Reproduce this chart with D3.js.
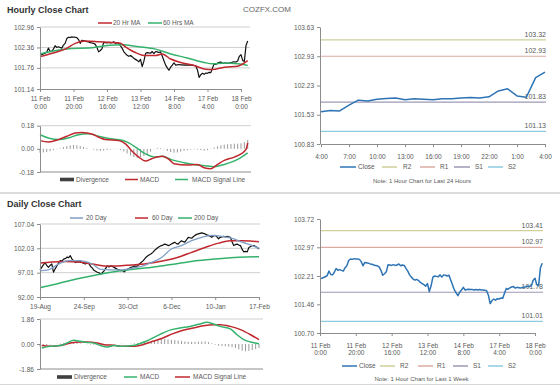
<!DOCTYPE html>
<html><head><meta charset="utf-8">
<script src="https://cdn.jsdelivr.net/npm/d3@7"></script>
<style>
body{margin:0;background:#fff;}
svg{display:block;}
</style></head><body>
<svg id="c" width="560" height="386"></svg>
<script>
// ---------------- DATA ----------------
// Hourly closes, 11 Feb 0:00 (idx 0) .. 18 Feb 4:00 (idx 124)
const hourClose = [
102.14,102.15,102.17,102.19,102.22,102.34,102.25,102.24,102.31,102.41,102.36,102.38,102.36,102.34,102.43,102.48,102.62,102.66,102.65,102.67,102.66,102.66,102.65,102.59,
102.48,102.57,102.56,102.55,102.53,102.52,102.50,102.49,102.48,102.45,102.36,102.23,102.27,102.32,102.51,102.50,102.49,102.51,102.49,102.50,102.53,102.48,102.50,102.49,
102.41,102.34,102.24,102.18,102.13,102.10,102.12,102.09,102.04,102.01,101.98,101.94,102.01,101.80,101.95,102.18,102.21,102.20,102.19,102.24,102.18,102.24,102.23,102.21,
102.23,102.10,101.97,101.84,101.76,101.69,101.78,101.84,101.91,101.84,101.85,101.86,101.85,101.85,101.84,101.85,101.84,101.85,101.84,101.84,101.83,101.82,101.70,101.48,
101.56,101.60,101.57,101.61,101.60,101.63,101.62,101.76,101.88,101.86,101.90,101.92,101.93,101.89,101.91,101.90,101.89,101.91,101.91,101.93,101.94,101.93,101.96,102.10,
102.15,101.98,101.95,102.42,102.55];
const hourTickIdx = [0,20,40,60,80,100,120];
const hourTickDay = ["11 Feb","11 Feb","12 Feb","13 Feb","14 Feb","17 Feb","18 Feb"];
const hourTickTime = ["0:00","20:00","16:00","12:00","8:00","4:00","0:00"];
const hourYTicks = [101.14,101.76,102.36,102.96];

const ma20hIdx = [0,9,15,21,27,35,41,48,51,57,63,69,73,78,84,92,98,103,110,118,124];
const ma20hVal = [102.09,102.21,102.31,102.48,102.55,102.53,102.51,102.48,102.38,102.21,102.12,102.12,102.17,102.02,101.92,101.83,101.73,101.71,101.78,101.81,101.97];
const ma60hIdx = [0,9,19,29,39,49,59,69,78,88,98,103,110,118,124];
const ma60hVal = [102.17,102.26,102.33,102.34,102.41,102.44,102.38,102.31,102.17,102.05,101.92,101.88,101.90,101.88,101.83];

const macdHIdx = [0,5,11,16,21,25,31,36,39,47,51,55,59,63,67,73,77,80,88,94,98,102,106,110,116,120,123,124];
const macdHVal = [0.064,0.054,0.072,0.098,0.123,0.128,0.116,0.085,0.072,0.064,0.039,-0.018,-0.064,-0.095,-0.075,-0.057,-0.082,-0.116,-0.126,-0.121,-0.147,-0.154,-0.121,-0.090,-0.064,-0.039,-0.005,0.046];
const sigHIdx = [0,5,11,17,23,29,35,41,49,53,59,63,69,73,78,86,94,100,104,110,118,124];
const sigHVal = [0.110,0.085,0.072,0.085,0.110,0.118,0.098,0.080,0.067,0.046,-0.005,-0.039,-0.064,-0.057,-0.082,-0.108,-0.126,-0.134,-0.139,-0.121,-0.082,-0.031];
// divergence every 2 hours (idx 0,2,...,124)
const divH = [-0.030,-0.028,-0.025,-0.018,-0.010,-0.003,0.005,0.014,0.022,0.028,0.030,0.028,0.022,0.015,0.008,0.000,-0.006,-0.012,-0.017,-0.014,-0.009,-0.005,-0.002,-0.003,-0.010,-0.020,-0.036,-0.052,-0.063,-0.070,-0.064,-0.056,-0.042,-0.022,-0.002,0.007,0.006,-0.004,-0.017,-0.025,-0.030,-0.028,-0.022,-0.015,-0.010,-0.006,-0.004,-0.006,-0.010,-0.014,-0.010,-0.002,0.010,0.020,0.028,0.033,0.036,0.038,0.040,0.040,0.043,0.052,0.070];
const macdHYTicks = [-0.18,0.00,0.18];

// Last 24 hours (idx 100..124)
const h24TickIdx = [100,103,106,109,112,115,118,121,124];
const h24TickLab = ["4:00","7:00","10:00","13:00","16:00","19:00","22:00","1:00","4:00"];
const h24YTicks = [100.83,101.53,102.23,102.93,103.63];
const levelNames = ["R2","R1","S1","S2"];
const levels24 = [103.32,102.93,101.83,101.13];
const levelsWeek = [103.41,102.97,101.78,101.01];
const weekYTicks = [100.70,101.46,102.21,102.97,103.72];

// Daily closes, 19-Aug (idx 0) .. 17-Feb (idx 130)
const dayClose = [
97.6,98.1,98.6,99.1,98.5,98.1,98.5,98.8,97.1,97.8,98.4,99.0,99.5,99.4,99.8,99.9,100.2,100.1,100.5,99.8,
99.5,99.1,99.3,99.2,99.4,99.1,98.9,98.8,99.1,98.9,98.3,98.0,97.5,97.3,97.1,97.0,96.7,97.0,97.4,97.9,
98.4,98.2,98.4,98.3,98.1,97.9,97.7,97.6,97.4,97.5,97.2,97.5,97.7,97.9,98.1,98.2,98.4,98.3,98.4,98.8,
99.1,99.4,99.8,100.2,100.5,100.7,100.9,101.2,101.6,101.9,102.2,102.4,102.6,102.7,102.9,102.8,102.6,102.7,102.9,103.1,
103.3,103.0,102.9,103.3,103.6,103.4,103.3,103.8,104.3,104.2,104.1,104.4,104.7,104.9,105.0,105.1,105.2,105.1,105.0,104.8,
104.7,104.5,104.3,104.6,104.7,104.4,104.0,104.3,104.4,104.5,104.4,104.5,104.4,104.3,103.4,102.6,102.8,102.9,102.7,102.6,
101.8,101.3,101.4,101.3,102.2,102.4,102.6,102.6,102.4,102.2,101.9];
const dayTickIdx = [0,26,52,78,104,130];
const dayTickLab = ["19-Aug","24-Sep","30-Oct","6-Dec","10-Jan","17-Feb"];
const dayYTicks = [92.00,97.01,102.03,107.04];

const ma20dIdx = [0,5,11,17,23,27,31,36,42,48,54,60,66,72,78,84,90,96,102,108,114,120,126,130];
const ma20dVal = [97.4,97.6,98.8,99.5,99.5,99.3,98.8,97.7,97.6,97.6,97.9,98.3,99.1,100.1,101.9,102.6,103.6,104.3,104.7,104.5,104.1,103.3,102.6,102.0];
const ma60dIdx = [0,7,15,23,31,38,46,54,62,68,74,82,90,98,106,113,120,126,130];
const ma60dVal = [99.0,99.2,99.3,99.2,98.8,98.4,98.4,98.6,98.8,99.1,99.5,100.2,101.2,102.2,103.1,103.6,103.6,103.5,103.4];
const ma200dIdx = [0,11,23,34,46,58,70,82,94,106,118,130];
const ma200dVal = [93.9,94.8,95.8,96.6,97.3,97.8,98.3,98.9,99.5,99.9,100.2,100.3];

const macdDIdx = [1,6,12,16,20,24,28,32,36,40,44,49,55,59,63,67,73,78,83,89,95,99,103,107,113,117,121,125,130];
const macdDVal = [-0.30,-0.17,-0.12,0.07,0.27,0.20,0.12,0.07,-0.12,-0.22,-0.12,-0.17,-0.12,0.02,0.20,0.45,0.82,1.07,1.19,1.31,1.49,1.61,1.49,1.31,1.12,0.69,0.32,0.15,0.02];
const sigDIdx = [1,6,12,18,24,28,34,38,44,49,55,61,67,73,79,85,91,97,103,107,113,119,125,130];
const sigDVal = [-0.12,-0.17,-0.12,0.07,0.15,0.15,0.07,-0.05,-0.10,-0.17,-0.17,-0.05,0.20,0.45,0.77,1.02,1.19,1.36,1.44,1.44,1.31,1.07,0.69,0.32];
// divergence every 2 days (idx 0,2,...,130)
const divD = [-0.18,-0.15,-0.08,-0.03,0.00,0.02,0.03,0.05,0.06,0.08,0.10,0.07,0.04,0.00,-0.02,-0.04,-0.06,-0.08,-0.09,-0.08,-0.06,-0.03,-0.02,0.00,0.02,0.01,0.00,0.02,0.05,0.07,0.09,0.12,0.17,0.22,0.28,0.33,0.36,0.37,0.34,0.31,0.29,0.26,0.22,0.19,0.17,0.16,0.16,0.17,0.18,0.20,0.14,0.05,-0.05,-0.12,-0.15,-0.17,-0.19,-0.24,-0.30,-0.40,-0.50,-0.54,-0.52,-0.45,-0.38,-0.30];
const macdDYTicks = [-1.86,0.00,1.86];

// ---------------- STYLE ----------------
const FF = '"Liberation Sans", Arial, Helvetica, sans-serif';
const FS = 6.5;
const TXT = "#595959", AX = "#8c8c8c", GRID = "#cfcfcf";
const RED = "#c0282e", GREEN = "#34b26c", BLUE = "#2e74b5", STEEL = "#7f9fc6";
const LVLC = ["#cfcf9a","#dcaaa2","#9d97b5","#8fcbe0"];

const svg = d3.select("#c").attr("font-family", FF);

function leftAxis(y, x0, vals, dec) {
  const g = svg.append("g").attr("transform", `translate(${x0},0)`)
    .call(d3.axisLeft(y).tickValues(vals).tickFormat(d => d.toFixed(dec)).tickSize(3).tickSizeOuter(0).tickPadding(3));
  g.attr("font-family", FF).attr("font-size", FS);
  g.select(".domain").attr("stroke", AX);
  g.selectAll(".tick line").attr("stroke", AX);
  g.selectAll(".tick text").attr("fill", TXT);
}
function bottomAxis(x, y0, vals, lab1, lab2, pad, gap) {
  const g = svg.append("g").attr("transform", `translate(0,${y0})`)
    .call(d3.axisBottom(x).tickValues(vals).tickFormat((d, i) => lab1[i]).tickSize(3).tickSizeOuter(0).tickPadding(pad));
  g.attr("font-family", FF).attr("font-size", FS);
  g.select(".domain").attr("stroke", AX);
  g.selectAll(".tick line").attr("stroke", AX);
  g.selectAll(".tick text").attr("fill", TXT);
  if (lab2) {
    g.selectAll(".tick").append("text").attr("fill", TXT)
      .attr("y", 3 + pad + gap).attr("dy", "0.71em").attr("text-anchor", "middle")
      .text((d, i) => lab2[i]);
  }
}
function grid(y, vals, x0, x1) {
  svg.append("g").selectAll("line").data(vals).join("line")
    .attr("x1", x0).attr("x2", x1).attr("y1", d => y(d)).attr("y2", d => y(d))
    .attr("stroke", GRID).attr("stroke-width", 1);
}
function path(xs, ys, x, y, color, w, curve) {
  const ln = d3.line().x((d, i) => x(xs[i])).y(d => y(d));
  if (curve) ln.curve(d3.curveMonotoneX);
  svg.append("path").datum(ys).attr("d", ln).attr("fill", "none")
    .attr("stroke", color).attr("stroke-width", w).attr("stroke-linejoin", "round");
}
function legend(items, cy) {
  items.forEach(it => {
    if (it.bar) {
      svg.append("rect").attr("x", it.x).attr("y", cy - 1.8).attr("width", it.w).attr("height", 3.6).attr("fill", "#404040");
    } else {
      svg.append("line").attr("x1", it.x).attr("x2", it.x + it.w).attr("y1", cy).attr("y2", cy)
        .attr("stroke", it.c).attr("stroke-width", 1.5);
    }
    svg.append("text").attr("x", it.tx).attr("y", cy).attr("dy", "0.35em")
      .attr("font-size", FS).attr("fill", TXT).text(it.t);
  });
}
function bars(idx, vals, x, y, w) {
  svg.append("g").selectAll("rect").data(vals).join("rect")
    .attr("x", (d, i) => x(idx(i)) - w / 2).attr("width", w)
    .attr("y", d => Math.min(y(d), y(0))).attr("height", d => Math.abs(y(d) - y(0)))
    .attr("fill", "#9a9a9a");
}
const hIdx = hourClose.map((d, i) => i);
const dIdx = dayClose.map((d, i) => i);

// ---------------- HEADERS / SEPARATORS ----------------
svg.append("text").attr("x", 7).attr("y", 12.5).attr("font-size", 9).attr("font-weight", "bold").attr("fill", "#333").text("Hourly Close Chart");
svg.append("text").attr("x", 243).attr("y", 12).attr("font-size", 8).attr("fill", "#666").text("COZFX.COM");
svg.append("text").attr("x", 7).attr("y", 206.5).attr("font-size", 9).attr("font-weight", "bold").attr("fill", "#333").text("Daily Close Chart");
svg.append("line").attr("x1", 0).attr("x2", 560).attr("y1", 193).attr("y2", 193).attr("stroke", "#cfcfcf").attr("stroke-width", 1.5);
svg.append("line").attr("x1", 0).attr("x2", 560).attr("y1", 384.5).attr("y2", 384.5).attr("stroke", "#d8d8d8").attr("stroke-width", 1);

// ---------------- A: hourly close ----------------
{
  const x = d3.scaleLinear().domain([0, 120]).range([40, 241]);
  const y = d3.scaleLinear().domain([101.14, 102.96]).range([89, 27]);
  grid(y, hourYTicks.slice(1), 40, 250);
  path(hIdx, hourClose, x, y, "#111", 1.2, false);
  path(ma60hIdx, ma60hVal, x, y, GREEN, 1.5, true);
  path(ma20hIdx, ma20hVal, x, y, RED, 1.5, true);
  leftAxis(y, 40, hourYTicks, 2);
  bottomAxis(x, 89, hourTickIdx, hourTickDay, hourTickTime, 4.5, 8);
  legend([{x: 98, w: 14, tx: 113, c: RED, t: "20 Hr MA"}, {x: 148, w: 14, tx: 163, c: GREEN, t: "60 Hrs MA"}], 23);
}
// ---------------- B: hourly MACD ----------------
{
  const x = d3.scaleLinear().domain([0, 120]).range([40, 241]);
  const y = d3.scaleLinear().domain([-0.18, 0.18]).range([172, 125.7]);
  grid(y, [0.18], 40, 251);
  bars(i => i * 2, divH, x, y, 1);
  path(sigHIdx, sigHVal, x, y, GREEN, 1.5, true);
  path(macdHIdx, macdHVal, x, y, RED, 1.5, true);
  leftAxis(y, 40, macdHYTicks, 2);
  svg.append("line").attr("x1", 40).attr("x2", 251).attr("y1", 172).attr("y2", 172).attr("stroke", AX);
  legend([{bar: true, x: 60, w: 14, tx: 76, t: "Divergence"}, {x: 125, w: 13, tx: 140, c: RED, t: "MACD"},
          {x: 175, w: 13, tx: 192, c: GREEN, t: "MACD Signal Line"}], 179.5);
}
// ---------------- C: last 24 hours ----------------
{
  const x = d3.scaleLinear().domain([100, 124]).range([321, 545]);
  const y = d3.scaleLinear().domain([100.83, 103.63]).range([144, 27]);
  levels24.forEach((v, i) => {
    svg.append("line").attr("x1", 320).attr("x2", 546).attr("y1", y(v)).attr("y2", y(v)).attr("stroke", LVLC[i]).attr("stroke-width", 1.2);
    svg.append("text").attr("x", 546).attr("y", y(v) - 3).attr("text-anchor", "end").attr("font-size", 7).attr("fill", TXT).text(v.toFixed(2));
  });
  path(hIdx.slice(100), hourClose.slice(100), x, y, BLUE, 1.5, false);
  leftAxis(y, 320, h24YTicks, 2);
  bottomAxis(x, 144, h24TickIdx, h24TickLab, null, 7.5, 0);
  legend([{x: 340, w: 16, tx: 358, c: BLUE, t: "Close"}, {x: 382, w: 15, tx: 403, c: LVLC[0], t: "R2"},
          {x: 420, w: 15, tx: 440, c: LVLC[1], t: "R1"}, {x: 454, w: 16, tx: 475, c: LVLC[2], t: "S1"},
          {x: 488, w: 15, tx: 508, c: LVLC[3], t: "S2"}], 167);
  svg.append("text").attr("x", 422).attr("y", 181).attr("dy", "0.35em").attr("text-anchor", "middle").attr("font-size", 6).attr("fill", TXT).text("Note: 1 Hour Chart for Last 24 Hours");
}
// ---------------- D: daily close ----------------
{
  const x = d3.scaleLinear().domain([0, 130]).range([40, 259]);
  const y = d3.scaleLinear().domain([92.00, 107.04]).range([297, 224]);
  grid(y, dayYTicks.slice(1), 40, 260);
  path(dIdx, dayClose, x, y, "#111", 1.2, false);
  path(ma200dIdx, ma200dVal, x, y, GREEN, 1.5, true);
  path(ma60dIdx, ma60dVal, x, y, RED, 1.5, true);
  path(ma20dIdx, ma20dVal, x, y, STEEL, 1.3, true);
  leftAxis(y, 40, dayYTicks, 2);
  bottomAxis(x, 297, dayTickIdx, dayTickLab, null, 4.5, 0);
  legend([{x: 70, w: 13, tx: 86, c: STEEL, t: "20 Day"}, {x: 135, w: 13, tx: 152, c: RED, t: "60 Day"},
          {x: 178, w: 14, tx: 194, c: GREEN, t: "200 Day"}], 218);
}
// ---------------- E: daily MACD ----------------
{
  const x = d3.scaleLinear().domain([0, 130]).range([40, 259]);
  const y = d3.scaleLinear().domain([-1.86, 1.86]).range([369, 319]);
  grid(y, [1.86], 40, 263);
  bars(i => i * 2, divD, x, y, 1);
  path(sigDIdx, sigDVal, x, y, RED, 1.5, true);
  path(macdDIdx, macdDVal, x, y, GREEN, 1.5, true);
  leftAxis(y, 40, macdDYTicks, 2);
  svg.append("line").attr("x1", 40).attr("x2", 263).attr("y1", 369).attr("y2", 369).attr("stroke", AX);
  legend([{bar: true, x: 57, w: 15, tx: 74, t: "Divergence"}, {x: 124, w: 13, tx: 140, c: GREEN, t: "MACD"},
          {x: 175, w: 15, tx: 193, c: RED, t: "MACD Signal Line"}], 377);
}
// ---------------- F: last week hourly ----------------
{
  const x = d3.scaleLinear().domain([0, 120]).range([320, 535]);
  const y = d3.scaleLinear().domain([100.70, 103.72]).range([333, 219]);
  levelsWeek.forEach((v, i) => {
    svg.append("line").attr("x1", 320).attr("x2", 543).attr("y1", y(v)).attr("y2", y(v)).attr("stroke", LVLC[i]).attr("stroke-width", 1.2);
    svg.append("text").attr("x", 543).attr("y", y(v) - 3).attr("text-anchor", "end").attr("font-size", 7).attr("fill", TXT).text(v.toFixed(2));
  });
  path(hIdx, hourClose, x, y, BLUE, 1.5, false);
  leftAxis(y, 320, weekYTicks, 2);
  bottomAxis(x, 333, hourTickIdx, hourTickDay, hourTickTime, 7, 7.5);
  legend([{x: 342, w: 15, tx: 359, c: BLUE, t: "Close"}, {x: 380, w: 15, tx: 400, c: LVLC[0], t: "R2"},
          {x: 418, w: 15, tx: 437, c: LVLC[1], t: "R1"}, {x: 453, w: 15, tx: 473, c: LVLC[2], t: "S1"},
          {x: 488, w: 15, tx: 508, c: LVLC[3], t: "S2"}], 366);
  svg.append("text").attr("x", 421.5).attr("y", 379).attr("dy", "0.35em").attr("text-anchor", "middle").attr("font-size", 6).attr("fill", TXT).text("Note: 1 Hour Chart for Last 1 Week");
}
</script>
</body></html>
